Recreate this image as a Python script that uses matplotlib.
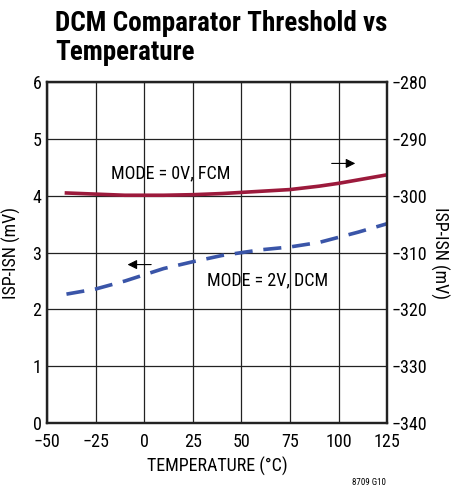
import matplotlib
matplotlib.use('Agg')
import matplotlib.pyplot as plt

plt.rcParams['font.family'] = ['Roboto Condensed', 'DejaVu Sans']

# data
temp = [-40, -25, -10, 0, 10, 25, 40, 50, 60, 75, 90, 100, 110, 125]
fcm = [-299.5, -299.7, -299.9, -299.9, -299.9, -299.8, -299.6, -299.4, -299.2, -298.9, -298.3, -297.8, -297.2, -296.3]
dcm = [2.27, 2.36, 2.50, 2.61, 2.72, 2.84, 2.95, 3.00, 3.05, 3.10, 3.18, 3.27, 3.36, 3.51]

xticks = [-50, -25, 0, 25, 50, 75, 100, 125]
left_ticks = [0, 1, 2, 3, 4, 5, 6]
right_ticks = [-340, -330, -320, -310, -300, -290, -280]

fig = plt.figure(figsize=(4.53, 4.92), dpi=100)
ax = fig.add_axes([0.1038, 0.140, 0.751, 0.693])
ax2 = ax.twinx()

ax.set_xlim(-50, 125)
ax.set_ylim(0, 6)
ax2.set_ylim(-340, -280)
ax.set_xticks(xticks)
ax.set_xticklabels([str(t).replace('-', '\u2212') for t in xticks])
ax.set_yticks(left_ticks)
ax2.set_yticks(right_ticks)
ax2.set_yticklabels([str(t).replace('-', '\u2212') for t in right_ticks])

ax.grid(True, color='#222222', lw=0.9)
ax.tick_params(axis='y', length=0, labelsize=13, pad=4)
ax.tick_params(axis='x', length=0, labelsize=13, pad=7)
ax2.tick_params(length=0, labelsize=13, pad=3)
for a in (ax, ax2):
    for s in a.spines.values():
        s.set_linewidth(1.6)
        s.set_color('#222222')

ax.plot(temp, dcm, color='#3a55a8', lw=2.6, dashes=(5, 3))
ax2.plot(temp, fcm, color='#9c1a3c', lw=2.6)

ax.set_xlabel('TEMPERATURE (\u00b0C)', fontsize=13, labelpad=4)
ax.set_ylabel('ISP-ISN (mV)', fontsize=13, labelpad=8)
ax2.set_ylabel('ISP-ISN (mV)', fontsize=13, rotation=-90, labelpad=16)

ax.text(13.6, 4.39, 'MODE = 0V, FCM', fontsize=13, ha='center', va='center')
ax.text(63.4, 2.51, 'MODE = 2V, DCM', fontsize=13, ha='center', va='center')

ax.annotate('', xy=(110, 4.57), xytext=(95, 4.57),
            arrowprops=dict(arrowstyle='-|>', color='black', lw=0.8, mutation_scale=14))
ax.annotate('', xy=(-10, 2.79), xytext=(5, 2.79),
            arrowprops=dict(arrowstyle='-|>', color='black', lw=0.8, mutation_scale=14))

fig.text(0.121, 0.937, 'DCM Comparator Threshold vs', fontsize=19.5,
         fontweight='bold', ha='left', va='baseline')
fig.text(0.121, 0.879, 'Temperature', fontsize=19.5,
         fontweight='bold', ha='left', va='baseline')
fig.text(0.815, 0.01, '8709 G10', fontsize=6.5, ha='center', va='bottom')

fig.savefig('out.png', dpi=100)
